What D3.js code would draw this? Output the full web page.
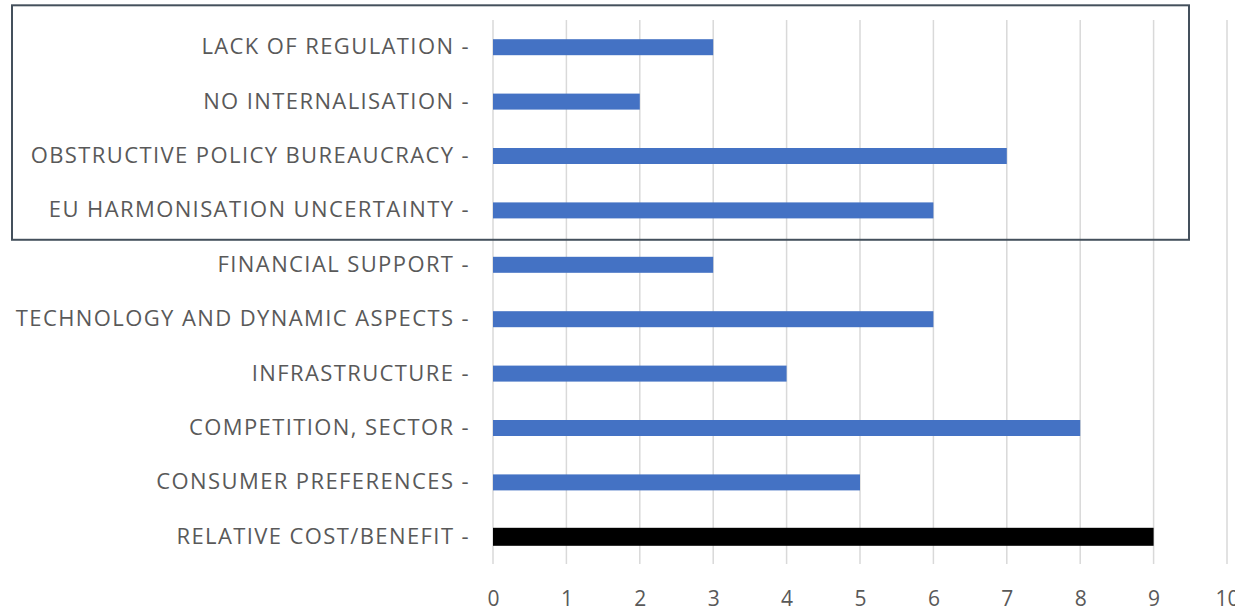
<!DOCTYPE html>
<html>
<head>
<meta charset="utf-8">
<script src="https://cdn.jsdelivr.net/npm/d3@7"></script>
<style>
  body { margin: 0; background: #fff; }
  .tick text { font-family: "Open Sans", sans-serif; fill: #595959; }
</style>
</head>
<body>
<script>
// data
var categories = ["LACK OF REGULATION", "NO INTERNALISATION", "OBSTRUCTIVE POLICY BUREAUCRACY",
                  "EU HARMONISATION UNCERTAINTY", "FINANCIAL SUPPORT", "TECHNOLOGY AND DYNAMIC ASPECTS",
                  "INFRASTRUCTURE", "COMPETITION, SECTOR", "CONSUMER PREFERENCES", "RELATIVE COST/BENEFIT"];
var values = [3, 2, 7, 6, 3, 6, 4, 8, 5, 9];
var highlighted = ["RELATIVE COST/BENEFIT"];
var xTicks = [0, 1, 2, 3, 4, 5, 6, 7, 8, 9, 10];
var boxed = ["LACK OF REGULATION", "EU HARMONISATION UNCERTAINTY"];  // first and last row inside the frame

var width = 1235, height = 613;
var plot = {left: 493, right: 1227, top: 20, bottom: 564};

var svg = d3.select("body").append("svg")
    .attr("width", width)
    .attr("height", height);

var x = d3.scaleLinear().domain([0, 10]).range([plot.left, plot.right]),
    y = d3.scaleBand().domain(categories).range([plot.top, plot.bottom]);

// vertical gridlines
svg.append("g")
    .selectAll("line")
    .data(xTicks)
    .enter()
    .append("line")
    .attr("x1", d => x(d)).attr("x2", d => x(d))
    .attr("y1", plot.top).attr("y2", plot.bottom)
    .attr("stroke", "#d9d9d9")
    .attr("stroke-width", 1.5);

// x axis labels
var xAxis = svg.append("g")
    .attr("transform", `translate(0, ${plot.bottom})`)
    .call(d3.axisBottom(x).tickValues(xTicks).tickSize(0).tickPadding(27));
xAxis.select(".domain").remove();
xAxis.selectAll("text").attr("font-size", 21);

// y axis labels (with the dash as part of the label)
var yAxis = svg.append("g")
    .attr("transform", `translate(${plot.left}, 0)`)
    .call(d3.axisLeft(y).tickSize(0).tickPadding(23).tickFormat(d => d + " -"));
yAxis.select(".domain").remove();
yAxis.selectAll("text")
    .attr("font-size", 22)
    .attr("letter-spacing", "1.4px");

// bars
svg.append("g")
    .selectAll("rect")
    .data(categories)
    .enter()
    .append("rect")
    .attr("x", x(0))
    .attr("y", d => {
      var h = highlighted.includes(d) ? 18 : 16;
      return y(d) + y.bandwidth() / 2 - h / 2;
    })
    .attr("height", d => highlighted.includes(d) ? 18 : 16)
    .attr("width", (d, i) => x(values[i]) - x(0))
    .attr("fill", d => highlighted.includes(d) ? "#000" : "#4472c4");

// frame around the policy group
var frameTop = y(boxed[0]) - y.step() * 0.27,
    frameBottom = y(boxed[1]) + y.bandwidth() + y.step() * 0.04;
svg.append("rect")
    .attr("x", 12)
    .attr("y", frameTop)
    .attr("width", 1189 - 12)
    .attr("height", frameBottom - frameTop)
    .attr("fill", "none")
    .attr("stroke", "#44505c")
    .attr("stroke-width", 2);
</script>
</body>
</html>
